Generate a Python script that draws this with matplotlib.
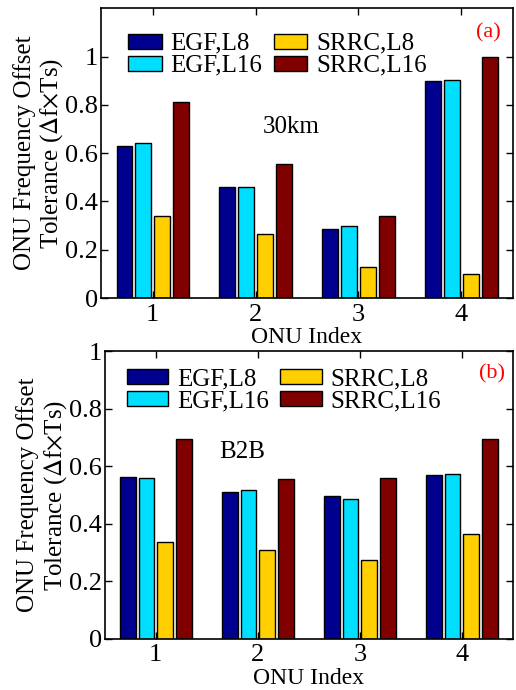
import numpy as np
import matplotlib
matplotlib.use('Agg')
import matplotlib.pyplot as plt

plt.rcParams['font.family'] = ['Liberation Serif', 'DejaVu Serif']
plt.rcParams['mathtext.fontset'] = 'stix'

# data
onu_index = [1, 2, 3, 4]
series_names = ['EGF,L8', 'EGF,L16', 'SRRC,L8', 'SRRC,L16']
colors = ['#00008F', '#00DFFF', '#FFCF00', '#800000']

# (a) 30km
egf_l8_30km = [0.63, 0.461, 0.288, 0.898]
egf_l16_30km = [0.641, 0.461, 0.299, 0.903]
srrc_l8_30km = [0.341, 0.265, 0.128, 0.101]
srrc_l16_30km = [0.81, 0.557, 0.341, 1.0]

# (b) B2B
egf_l8_b2b = [0.564, 0.51, 0.497, 0.569]
egf_l16_b2b = [0.56, 0.517, 0.486, 0.573]
srrc_l8_b2b = [0.336, 0.308, 0.276, 0.364]
srrc_l16_b2b = [0.694, 0.555, 0.56, 0.694]

fig = plt.figure(figsize=(5.16, 6.9), dpi=100)
ax1 = fig.add_axes([0.196, 0.568, 0.798, 0.420])
ax2 = fig.add_axes([0.203, 0.074, 0.791, 0.417])


def draw_panel(ax, data, ylim, label, note, note_xy, tag_xy, hl, leg_anchor):
    x = np.array(onu_index)
    offsets = [-1.5, -0.5, 0.5, 1.5]
    for vals, name, c, off in zip(data, series_names, colors, offsets):
        ax.bar(x + off * 0.183, vals, width=0.152, color=c, edgecolor='black',
               linewidth=1.0, label=name)
    ax.set_xlim(0.5, 4.5)
    ax.set_ylim(*ylim)
    ax.set_xticks(onu_index)
    ax.set_yticks([0, 0.2, 0.4, 0.6, 0.8, 1])
    ax.set_yticklabels(['0', '0.2', '0.4', '0.6', '0.8', '1'])
    ax.tick_params(direction='in', length=5, width=1, labelsize=19,
                   top=True, right=True)
    ax.tick_params(axis='x', pad=4)
    ax.tick_params(axis='y', pad=2)
    for s in ax.spines.values():
        s.set_linewidth(1.2)
    ax.set_xlabel('ONU Index', fontsize=17, labelpad=1)
    ax.set_ylabel('ONU Frequency Offset\nTolerance ($\\Delta$f$\\times$Ts)',
                  fontsize=18, labelpad=0, linespacing=1.15)
    ax.text(note_xy[0], note_xy[1], note, fontsize=18, ha='center', va='center')
    ax.text(tag_xy[0], tag_xy[1], label, fontsize=16, color='red',
            ha='center', va='center')
    ax.legend(ncol=2, loc='upper left', bbox_to_anchor=leg_anchor,
              frameon=False, fontsize=18, handlelength=hl, handleheight=0.55,
              handletextpad=0.35, columnspacing=0.45, labelspacing=0.0,
              borderaxespad=0.0, borderpad=0.0)


draw_panel(ax1, [egf_l8_30km, egf_l16_30km, srrc_l8_30km, srrc_l16_30km],
           (0, 1.2), '(a)', '30km', (2.35, 0.71), (4.26, 1.10),
           1.35, (0.065, 0.915))
draw_panel(ax2, [egf_l8_b2b, egf_l16_b2b, srrc_l8_b2b, srrc_l16_b2b],
           (0, 1.0), '(b)', 'B2B', (1.85, 0.65), (4.30, 0.92),
           1.65, (0.055, 0.94))

fig.savefig('out.png', dpi=100)
